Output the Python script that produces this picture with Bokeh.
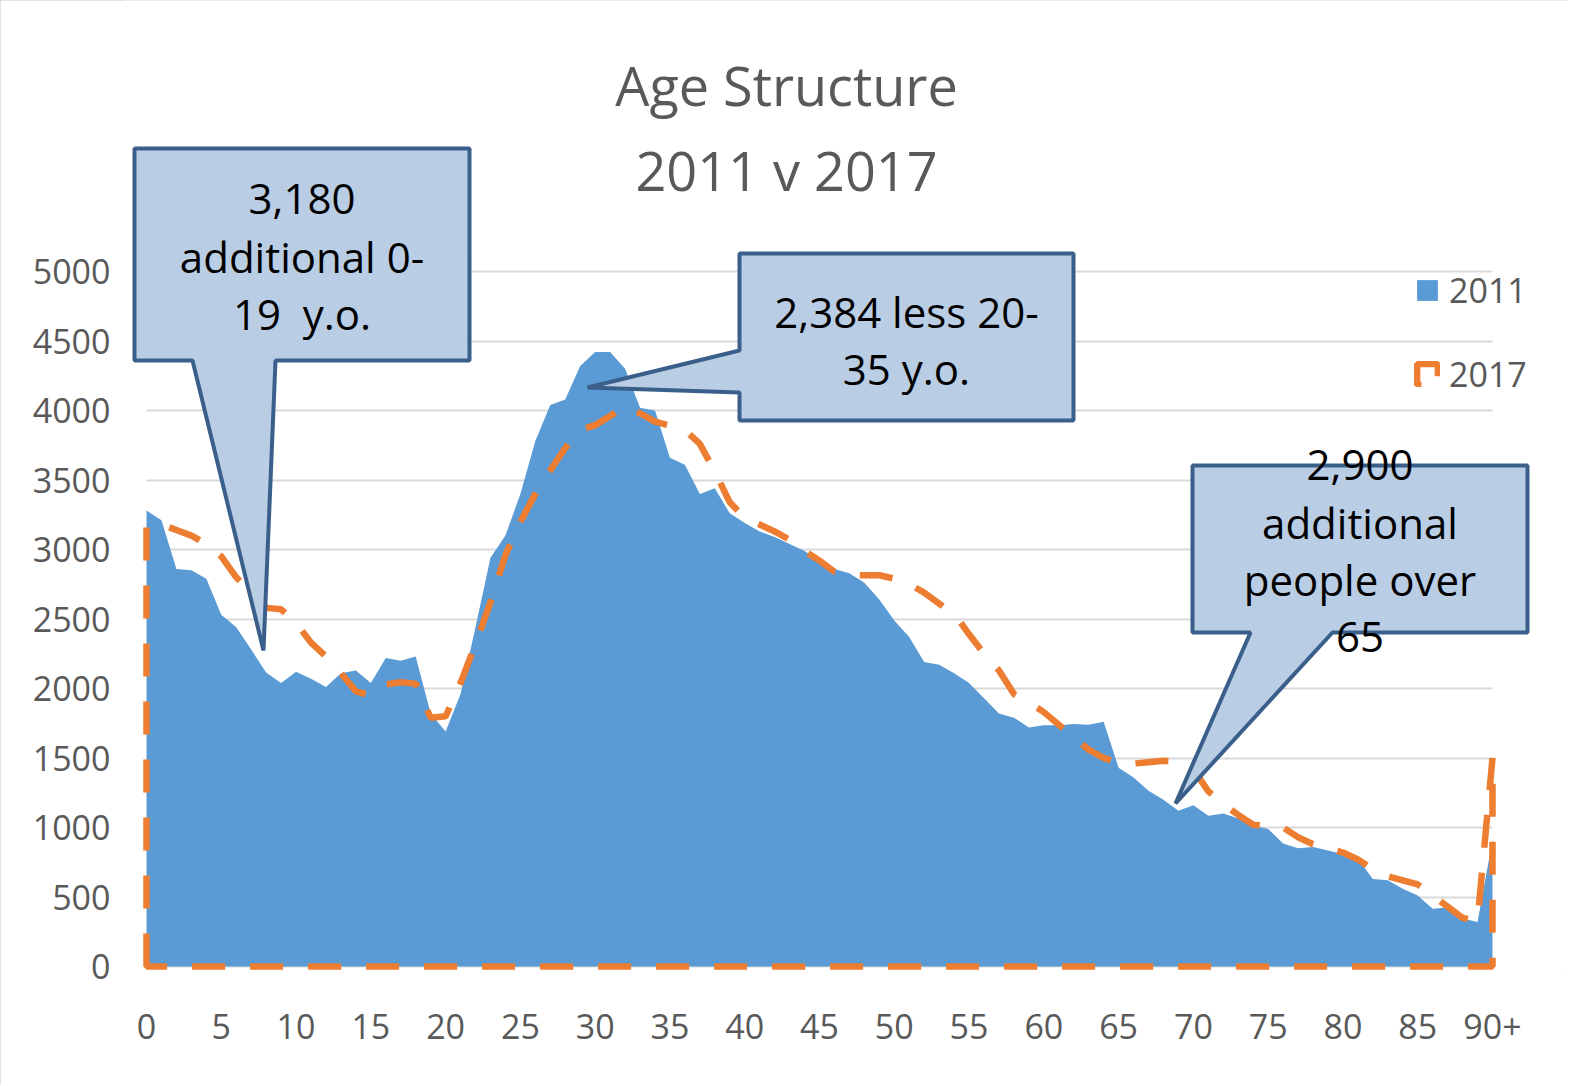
from bokeh.plotting import figure
from bokeh.models import PolyAnnotation, Label, Range1d, FixedTicker, Legend, LegendItem
from bokeh.embed import file_html
from bokeh.resources import INLINE

# ---------------- data ----------------
ages = list(range(0, 91))
pop_2011 = [3280, 3210, 2860, 2850, 2790, 2530, 2440, 2280, 2115, 2040,
            2120, 2070, 2010, 2110, 2130, 2040, 2220, 2200, 2230, 1820,
            1690, 1960, 2440, 2940, 3100, 3400, 3780, 4040, 4080, 4320,
            4420, 4420, 4300, 4020, 4000, 3660, 3610, 3400, 3440, 3260,
            3190, 3130, 3090, 3040, 2990, 2920, 2860, 2830, 2760, 2640,
            2490, 2370, 2190, 2170, 2110, 2040, 1930, 1820, 1790, 1720,
            1735, 1735, 1745, 1740, 1760, 1430, 1360, 1265, 1200, 1120,
            1160, 1085, 1100, 1065, 1015, 990, 885, 850, 860, 835,
            810, 775, 630, 620, 560, 510, 415, 425, 345, 320,
            910]
pop_2017 = [3170, 3180, 3140, 3100, 3040, 2950, 2800, 2690, 2580, 2570,
            2470, 2330, 2230, 2110, 1980, 1950, 2030, 2045, 2035, 1790,
            1800, 2040, 2320, 2620, 2960, 3200, 3400, 3570, 3730, 3860,
            3895, 3960, 4030, 3980, 3920, 3890, 3860, 3760, 3560, 3340,
            3230, 3180, 3130, 3070, 2990, 2920, 2840, 2815, 2815, 2815,
            2790, 2750, 2690, 2610, 2540, 2390, 2250, 2130, 1960, 1900,
            1830, 1740, 1650, 1560, 1500, 1470, 1460, 1470, 1480, 1470,
            1420, 1260, 1170, 1090, 1020, 1010, 1000, 930, 880, 850,
            820, 770, 700, 650, 620, 590, 510, 430, 350, 330,
            1500]
y_ticks = list(range(0, 5001, 500))
x_ticks = list(range(0, 91, 5))
x_tick_labels = {90: "90+"}
title_lines = ["Age Structure", "2011 v 2017"]
callout_1 = ["3,180", "additional 0-", "19\u00a0 y.o."]
callout_2 = ["2,384 less 20-", "35 y.o."]
callout_3 = ["2,900", "additional", "people over", "65"]
series_names = ["2011", "2017"]

# ---------------- style / layout ----------------
BLUE = "#5B9BD5"
ORANGE = "#ED7D31"
GRID = "#D9D9D9"
LABEL = "#595959"
BOX_FILL = "#B9CDE5"
BOX_LINE = "#3A5F8B"
FONT = "Open Sans"

W, H = 1568, 1085
FL, FB = 122, 975          # frame left / bottom (canvas px)
XPX = 1346 / 90.0          # px per year
YPX = 695 / 5000.0         # px per person
def dx(px):
    return (px - 146) / XPX
def dy(py):
    return (966 - py) / YPX

p = figure(width=W, height=H, output_backend="svg", toolbar_location=None,
           x_range=Range1d(dx(FL), dx(W)), y_range=Range1d(dy(FB), dy(0)),
           min_border_left=FL, min_border_right=0,
           min_border_top=0, min_border_bottom=H - FB,
           title=None)
p.background_fill_color = "white"
p.border_fill_color = "white"
p.outline_line_color = None
p.styles = {"outline": "3px solid #D9D9D9", "outline-offset": "-3px"}

r2011 = p.varea(x=ages, y1=0, y2=pop_2011, fill_color=BLUE)
xs17 = [ages[0]] + ages + [ages[-1]]
ys17 = [0] + pop_2017 + [0]
r2017 = p.patch(x=xs17, y=ys17, fill_alpha=0, line_color=ORANGE,
                line_width=6.5, line_dash="33 25")

# axes
p.xaxis.ticker = FixedTicker(ticks=x_ticks)
p.xaxis.major_label_overrides = x_tick_labels
p.yaxis.ticker = FixedTicker(ticks=y_ticks)
for ax in (p.xaxis[0], p.yaxis[0]):
    ax.axis_line_color = None
    ax.major_tick_line_color = None
    ax.minor_tick_line_color = None
    ax.major_tick_out = 0
    ax.major_tick_in = 0
    ax.major_label_text_font = FONT
    ax.major_label_text_font_size = "34px"
    ax.major_label_text_color = LABEL
p.yaxis.major_label_standoff = FL - 110
p.xaxis.major_label_standoff = 1013 - FB
p.xgrid.grid_line_color = None
p.ygrid.ticker = FixedTicker(ticks=y_ticks)
p.ygrid.grid_line_color = GRID
p.ygrid.grid_line_width = 2
try:
    p.ygrid.cross_bounds = (ages[0], ages[-1])
except Exception:
    p.ygrid.grid_line_color = None
    p.segment(x0=[ages[0]] * len(y_ticks), x1=[ages[-1]] * len(y_ticks),
              y0=y_ticks, y1=y_ticks, line_color=GRID, line_width=2, level="underlay")

# legend
legend = Legend(items=[LegendItem(label=series_names[0], renderers=[r2011]),
                       LegendItem(label=series_names[1], renderers=[r2017])],
                location=(1414 - FL, FB - 397), orientation="vertical",
                glyph_width=26, glyph_height=26, label_height=26,
                spacing=38, padding=0, margin=0, label_standoff=9,
                label_text_font=FONT, label_text_font_size="34px",
                label_text_color=LABEL, border_line_color=None,
                background_fill_alpha=0)
p.add_layout(legend, "center")

# callout shapes (canvas pixel outlines)
boxes = [
    [(134, 148), (469, 148), (469, 360), (275, 360), (263, 650), (192, 360), (134, 360)],
    [(739, 253), (1073, 253), (1073, 420), (739, 420), (739, 392), (587, 387), (739, 350)],
    [(1192, 465), (1527, 465), (1527, 632), (1332, 632), (1175, 803), (1250, 632), (1192, 632)],
]
for b in boxes:
    p.add_layout(PolyAnnotation(xs=[dx(a) for a, _ in b], ys=[dy(c) for _, c in b],
                                fill_color=BOX_FILL, fill_alpha=1,
                                line_color=BOX_LINE, line_alpha=1, line_width=4))

def add_lines(lines, cx, centers, size, color):
    for t, cy in zip(lines, centers):
        p.add_layout(Label(x=dx(cx), y=dy(cy), text=t, text_align="center",
                           text_baseline="middle", text_font=FONT,
                           text_font_size=size, text_color=color))

add_lines(callout_1, 301.5, [198, 256, 313], "42px", "black")
add_lines(callout_2, 906, [311, 368], "42px", "black")
add_lines(callout_3, 1359.5, [464, 522, 579, 636], "42px", "black")
add_lines(title_lines, 786, [84, 169], "54px", LABEL)

open("out.html", "w").write(file_html(p, INLINE))
